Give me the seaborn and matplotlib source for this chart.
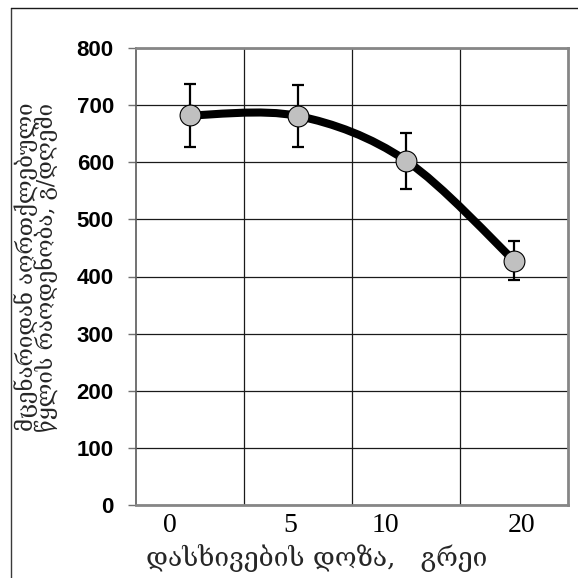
import numpy as np
import matplotlib
matplotlib.use("Agg")
import matplotlib.pyplot as plt
from matplotlib.path import Path
from matplotlib.patches import PathPatch
from matplotlib.lines import Line2D
import seaborn as sns
import pandas as pd

# ---- data ----
doses = ["0", "5", "10", "20"]
water = [682, 681, 603, 428]
err = [55, 55, 49, 34]
y_ticks = [0, 100, 200, 300, 400, 500, 600, 700, 800]
ylabel_lines = ["მცენარიდან აორთქლებული", "წყლის რაოდენობა, გ/დღეში"]
xlabel = "დასხივების დოზა,   გრეი"

# style: horizontal shift of the x labels relative to category centres
label_shift = [-0.19, -0.07, -0.19, 0.07]

sns.set_theme(style="white")
geo = ["DejaVu Serif", "DejaVu Sans"]
plt.rcParams["font.family"] = geo

W = 578
fig = plt.figure(figsize=(5.78, 5.78), dpi=100)
ax = fig.add_axes([136 / W, 1 - 505 / W, 432 / W, 457 / W])

df = pd.DataFrame({"pos": np.arange(len(doses)), "water": water, "err": err})

# smoothed (Catmull-Rom / Bezier) line through the data points
x = df["pos"].to_numpy(float)
y = df["water"].to_numpy(float)
pts = np.column_stack([x, y])
n = len(pts)
verts = [tuple(pts[0])]
codes = [Path.MOVETO]
for i in range(n - 1):
    p_prev = pts[max(i - 1, 0)]
    p0 = pts[i]
    p1 = pts[i + 1]
    p_next = pts[min(i + 2, n - 1)]
    c1 = p0 + (p1 - p_prev) / 6.0
    c2 = p1 - (p_next - p0) / 6.0
    verts += [tuple(c1), tuple(c2), tuple(p1)]
    codes += [Path.CURVE4, Path.CURVE4, Path.CURVE4]
ax.add_patch(PathPatch(Path(verts, codes), facecolor="none", edgecolor="black",
                       lw=5.8, capstyle="round", joinstyle="round", zorder=2))

ax.errorbar(df["pos"], df["water"], yerr=df["err"], fmt="none", ecolor="black",
            elinewidth=1.6, capsize=4.3, capthick=1.6, zorder=3)
sns.scatterplot(data=df, x="pos", y="water", s=15.0 ** 2, color="#c0c0c0",
                edgecolor="black", linewidth=0.8, zorder=4, ax=ax, legend=False)

ax.set_xlim(-0.5, len(doses) - 0.5)
ax.set_ylim(0, 800)
ax.set_yticks(y_ticks)
ax.set_yticklabels([str(t) for t in y_ticks], fontfamily="Liberation Sans",
                   fontweight="bold", fontsize=16)
ax.set_xticks([i + s for i, s in enumerate(label_shift)])
ax.set_xticklabels(doses, fontfamily="Liberation Serif", fontsize=20)
ax.set_xticks([i + 0.5 for i in range(len(doses) - 1)], minor=True)
ax.tick_params(axis="x", which="both", length=0, pad=6, colors="black")
ax.tick_params(axis="y", which="major", length=6, width=1.0, color="#707070",
               direction="out", pad=10, left=True, labelcolor="black")
ax.set_axisbelow(True)
ax.grid(False)
ax.grid(True, axis="y", which="major", color="#1a1a1a", lw=0.9)
ax.grid(True, axis="x", which="minor", color="#1a1a1a", lw=0.9)
ax.set_xlabel("")
ax.set_ylabel("")
for side in ["top", "right", "bottom"]:
    ax.spines[side].set_color("#868686")
    ax.spines[side].set_linewidth(2.0)
ax.spines["left"].set_color("#5a5a5a")
ax.spines["left"].set_linewidth(1.2)

# axis titles
fig.text(37 / W, 1 - 267 / W, "\n".join(ylabel_lines), rotation=90, ha="center",
         va="center", multialignment="center", linespacing=0.76,
         fontsize=16, family=geo)
fig.text(317 / W, 1 - 558 / W, xlabel, ha="center", va="center", fontsize=19, family=geo)

# outer frame of the embedded picture
fig.add_artist(Line2D([10.5 / W, 10.5 / W], [0, 1 - 7.5 / W], color="#3a3a3a", lw=1.0))
fig.add_artist(Line2D([10.5 / W, 1], [1 - 7.5 / W, 1 - 7.5 / W], color="#1a1a1a", lw=1.0))

fig.savefig("out.png", dpi=100)
